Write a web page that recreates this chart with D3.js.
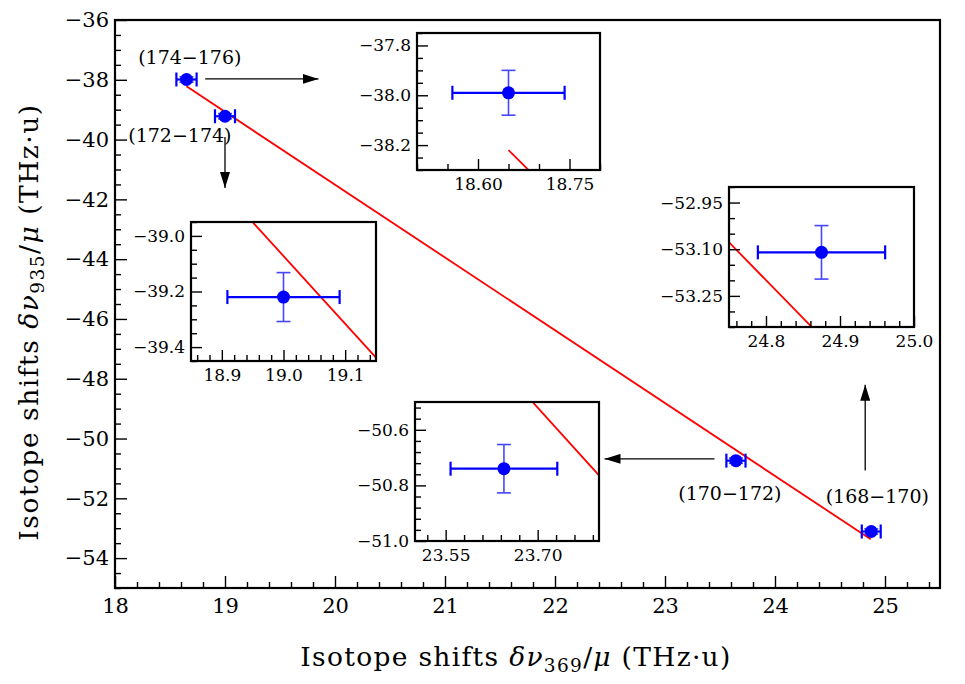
<!DOCTYPE html>
<html><head><meta charset="utf-8">
<script src="https://cdn.jsdelivr.net/npm/d3@7"></script>
<style>
html,body{margin:0;padding:0;background:#fff;}
svg text{font-family:"DejaVu Serif","Liberation Serif",serif;fill:#000;}
</style></head>
<body><svg id="chart" width="965" height="684"></svg>
<script>
// ---------- data ----------
const pairLabels = ["(174\u2212176)", "(172\u2212174)", "(170\u2212172)", "(168\u2212170)"];
const xVals = [18.65, 19.00, 23.645, 24.875];
const yVals = [-37.99, -39.22, -50.74, -53.11];
const xErr = [0.092, 0.091, 0.087, 0.086];
const yErr = [0.090, 0.088, 0.087, 0.086];
const fitX = [18.65, 24.87];
const fitY = [-38.22, -53.37];
const xMajorTicks = [18, 19, 20, 21, 22, 23, 24, 25];
const yMajorTicks = [-54, -52, -50, -48, -46, -44, -42, -40, -38, -36];
// label anchor positions (data coords)
const labelX = [18.68, 18.59, 23.59, 24.93];
const labelY = [-37.24, -39.85, -51.82, -51.95];
// arrows (data coords): start -> end
const arrowX1 = [18.82, 19.00, 23.45, 24.82];
const arrowY1 = [-37.97, -39.91, -50.68, -51.07];
const arrowX2 = [19.85, 19.00, 22.45, 24.82];
const arrowY2 = [-37.97, -41.62, -50.68, -48.20];
// inset axes
const insetXDomains = [[18.5, 18.8], [18.85, 19.15], [24.75, 25.0], [23.5, 23.8]];
const insetYDomains = [[-38.3, -37.75], [-39.45, -38.95], [-53.35, -52.9], [-51.0, -50.5]];
const insetXTicks = [[18.60, 18.75], [18.9, 19.0, 19.1], [24.8, 24.9, 25.0], [23.55, 23.70]];
const insetYTicks = [[-37.8, -38.0, -38.2], [-39.0, -39.2, -39.4], [-52.95, -53.10, -53.25], [-50.6, -50.8, -51.0]];
const insetXMinorStep = [0.05, 0.02, 0.02, 0.03];
const insetYMinorStep = [0.05, 0.05, 0.05, 0.04];
const insetXFmt = [".2f", ".1f", ".1f", ".2f"];
const insetYFmt = [".1f", ".1f", ".2f", ".1f"];
const insetPoint = [0, 1, 3, 2]; // which data point each inset shows

// ---------- layout ----------
const svg = d3.select("#chart");
const M = {left: 115, right: 940, top: 20, bottom: 588};
const x = d3.scaleLinear().domain([18, 25.5]).range([M.left, M.right]);
const y = d3.scaleLinear().domain([-55, -36]).range([M.bottom, M.top]);

function minorTicks(domain, step, majors) {
  const out = [];
  const start = Math.ceil(domain[0] / step - 1e-6) * step;
  for (let v = start; v <= domain[1] + 1e-9; v += step) {
    const r = Math.round(v * 1000) / 1000;
    if (!majors.some(m => Math.abs(m - r) < 1e-6)) out.push(r);
  }
  return out;
}

function drawAxes(g, xs, ys, opts) {
  const xd = xs.domain(), yd = ys.domain();
  const xr = xs.range(), yr = ys.range();
  g.append("g").attr("transform", `translate(0,${yr[0]})`)
    .call(d3.axisBottom(xs).tickValues(minorTicks(xd, opts.xMinor, opts.xMajor)).tickSize(-opts.minorLen).tickFormat(""))
    .call(a => a.select(".domain").remove())
    .call(a => a.selectAll("line").attr("stroke", "#000").attr("stroke-width", opts.tickW));
  g.append("g").attr("transform", `translate(${xr[0]},0)`)
    .call(d3.axisLeft(ys).tickValues(minorTicks([yd[0], yd[1]], opts.yMinor, opts.yMajor)).tickSize(-opts.minorLen).tickFormat(""))
    .call(a => a.select(".domain").remove())
    .call(a => a.selectAll("line").attr("stroke", "#000").attr("stroke-width", opts.tickW));
  g.append("g").attr("transform", `translate(0,${yr[0]})`)
    .call(d3.axisBottom(xs).tickValues(opts.xMajor).tickSize(-opts.majorLen).tickPadding(opts.xPad).tickFormat(opts.xFmt))
    .call(a => a.select(".domain").remove())
    .call(a => a.selectAll("line").attr("stroke", "#000").attr("stroke-width", opts.tickW))
    .call(a => a.selectAll("text").attr("font-size", opts.fs).attr("font-family", null).attr("fill", "#000"));
  g.append("g").attr("transform", `translate(${xr[0]},0)`)
    .call(d3.axisLeft(ys).tickValues(opts.yMajor).tickSize(-opts.majorLen).tickPadding(opts.yPad).tickFormat(opts.yFmt))
    .call(a => a.select(".domain").remove())
    .call(a => a.selectAll("line").attr("stroke", "#000").attr("stroke-width", opts.tickW))
    .call(a => a.selectAll("text").attr("font-size", opts.fs).attr("font-family", null).attr("fill", "#000"));
  g.append("rect").attr("x", xr[0]).attr("y", yr[1]).attr("width", xr[1] - xr[0]).attr("height", yr[0] - yr[1])
    .attr("fill", "none").attr("stroke", "#000").attr("stroke-width", opts.frameW);
}

function drawPoint(g, xs, ys, i, capH) {
  const cx = xs(xVals[i]), cy = ys(yVals[i]);
  const x0 = xs(xVals[i] - xErr[i]), x1 = xs(xVals[i] + xErr[i]);
  const y0 = ys(yVals[i] - yErr[i]), y1 = ys(yVals[i] + yErr[i]);
  const cb = "#0000ff", cl = "#4646ff";
  g.append("line").attr("x1", cx).attr("x2", cx).attr("y1", y0).attr("y2", y1).attr("stroke", cl).attr("stroke-width", 1.6);
  g.append("line").attr("x1", cx - capH).attr("x2", cx + capH).attr("y1", y0).attr("y2", y0).attr("stroke", cl).attr("stroke-width", 1.6);
  g.append("line").attr("x1", cx - capH).attr("x2", cx + capH).attr("y1", y1).attr("y2", y1).attr("stroke", cl).attr("stroke-width", 1.6);
  g.append("line").attr("x1", x0).attr("x2", x1).attr("y1", cy).attr("y2", cy).attr("stroke", cb).attr("stroke-width", 2.2);
  g.append("line").attr("x1", x0).attr("x2", x0).attr("y1", cy - capH).attr("y2", cy + capH).attr("stroke", cb).attr("stroke-width", 2.2);
  g.append("line").attr("x1", x1).attr("x2", x1).attr("y1", cy - capH).attr("y2", cy + capH).attr("stroke", cb).attr("stroke-width", 2.2);
  g.append("circle").attr("cx", cx).attr("cy", cy).attr("r", 6.5).attr("fill", cb);
}

const defs = svg.append("defs");
defs.append("marker").attr("id", "ah").attr("viewBox", "0 0 16 10").attr("refX", 16).attr("refY", 5)
  .attr("markerWidth", 16).attr("markerHeight", 10).attr("markerUnits", "userSpaceOnUse").attr("orient", "auto")
  .append("path").attr("d", "M0,0 L16,5 L0,10 Z").attr("fill", "#000");

// ---------- main axes ----------
const main = svg.append("g");
defs.append("clipPath").attr("id", "clipMain").append("rect")
  .attr("x", M.left).attr("y", M.top).attr("width", M.right - M.left).attr("height", M.bottom - M.top);

const lineGen = d3.line().x(d => d[0]).y(d => d[1]);
main.append("path").attr("clip-path", "url(#clipMain)")
  .attr("d", lineGen(fitX.map((v, i) => [x(v), y(fitY[i])])))
  .attr("fill", "none").attr("stroke", "#ff0000").attr("stroke-width", 1.8);
xVals.forEach((_, i) => drawPoint(main, x, y, i, 7));

drawAxes(main, x, y, {
  xMajor: xMajorTicks, yMajor: yMajorTicks, xMinor: 0.2, yMinor: 0.5,
  majorLen: 12, minorLen: 6, tickW: 1.4, frameW: 2.2, fs: 21,
  xPad: 10, yPad: 6, xFmt: d3.format("d"), yFmt: d3.format("d")
});

pairLabels.forEach((t, i) => {
  main.append("text").attr("x", x(labelX[i])).attr("y", y(labelY[i])).attr("dy", "0.35em")
    .attr("text-anchor", "middle").attr("font-size", 19).text(t);
  main.append("line").attr("x1", x(arrowX1[i])).attr("y1", y(arrowY1[i]))
    .attr("x2", x(arrowX2[i])).attr("y2", y(arrowY2[i]))
    .attr("stroke", "#000").attr("stroke-width", 1.3).attr("marker-end", "url(#ah)");
});

// axis titles
function title(sel, sub) {
  sel.append("tspan").text("Isotope shifts ");
  sel.append("tspan").attr("font-style", "italic").text("\u03B4\u03BD");
  sel.append("tspan").attr("font-size", "70%").attr("dy", "0.3em").text(sub);
  sel.append("tspan").attr("dy", "-0.21em").text("/");
  sel.append("tspan").attr("font-style", "italic").text("\u03BC");
  sel.append("tspan").text(" (THz\u00B7u)");
}
const xt = svg.append("text").attr("x", 516).attr("y", 666)
  .attr("text-anchor", "middle").attr("font-size", 26.5).attr("letter-spacing", 1.3);
title(xt, "369");
const yt = svg.append("text").attr("transform", `translate(38,322) rotate(-90)`)
  .attr("text-anchor", "middle").attr("font-size", 26.5).attr("letter-spacing", 1.5);
title(yt, "935");

// ---------- insets ----------
const insetBoxes = [[417, 33, 600, 170], [191, 222, 376, 361], [729, 187, 914, 327], [415, 402, 599, 541]];
insetXDomains.forEach((xd, k) => {
  const b = insetBoxes[k];
  const xs = d3.scaleLinear().domain(xd).range([b[0], b[2]]);
  const ys = d3.scaleLinear().domain(insetYDomains[k]).range([b[3], b[1]]);
  const g = svg.append("g");
  g.append("rect").attr("x", b[0]).attr("y", b[1]).attr("width", b[2] - b[0]).attr("height", b[3] - b[1]).attr("fill", "#fff");
  const cid = "clipInset" + k;
  defs.append("clipPath").attr("id", cid).append("rect")
    .attr("x", b[0]).attr("y", b[1]).attr("width", b[2] - b[0]).attr("height", b[3] - b[1]);
  g.append("path").attr("clip-path", `url(#${cid})`)
    .attr("d", lineGen(fitX.map((v, i) => [xs(v), ys(fitY[i])])))
    .attr("fill", "none").attr("stroke", "#ff0000").attr("stroke-width", 1.8);
  drawPoint(g, xs, ys, insetPoint[k], 7);
  drawAxes(g, xs, ys, {
    xMajor: insetXTicks[k], yMajor: insetYTicks[k], xMinor: insetXMinorStep[k], yMinor: insetYMinorStep[k],
    majorLen: 11, minorLen: 6, tickW: 1.4, frameW: 2.2, fs: 17,
    xPad: 8, yPad: 6, xFmt: d3.format(insetXFmt[k]), yFmt: d3.format(insetYFmt[k])
  });
});
</script></body></html>
